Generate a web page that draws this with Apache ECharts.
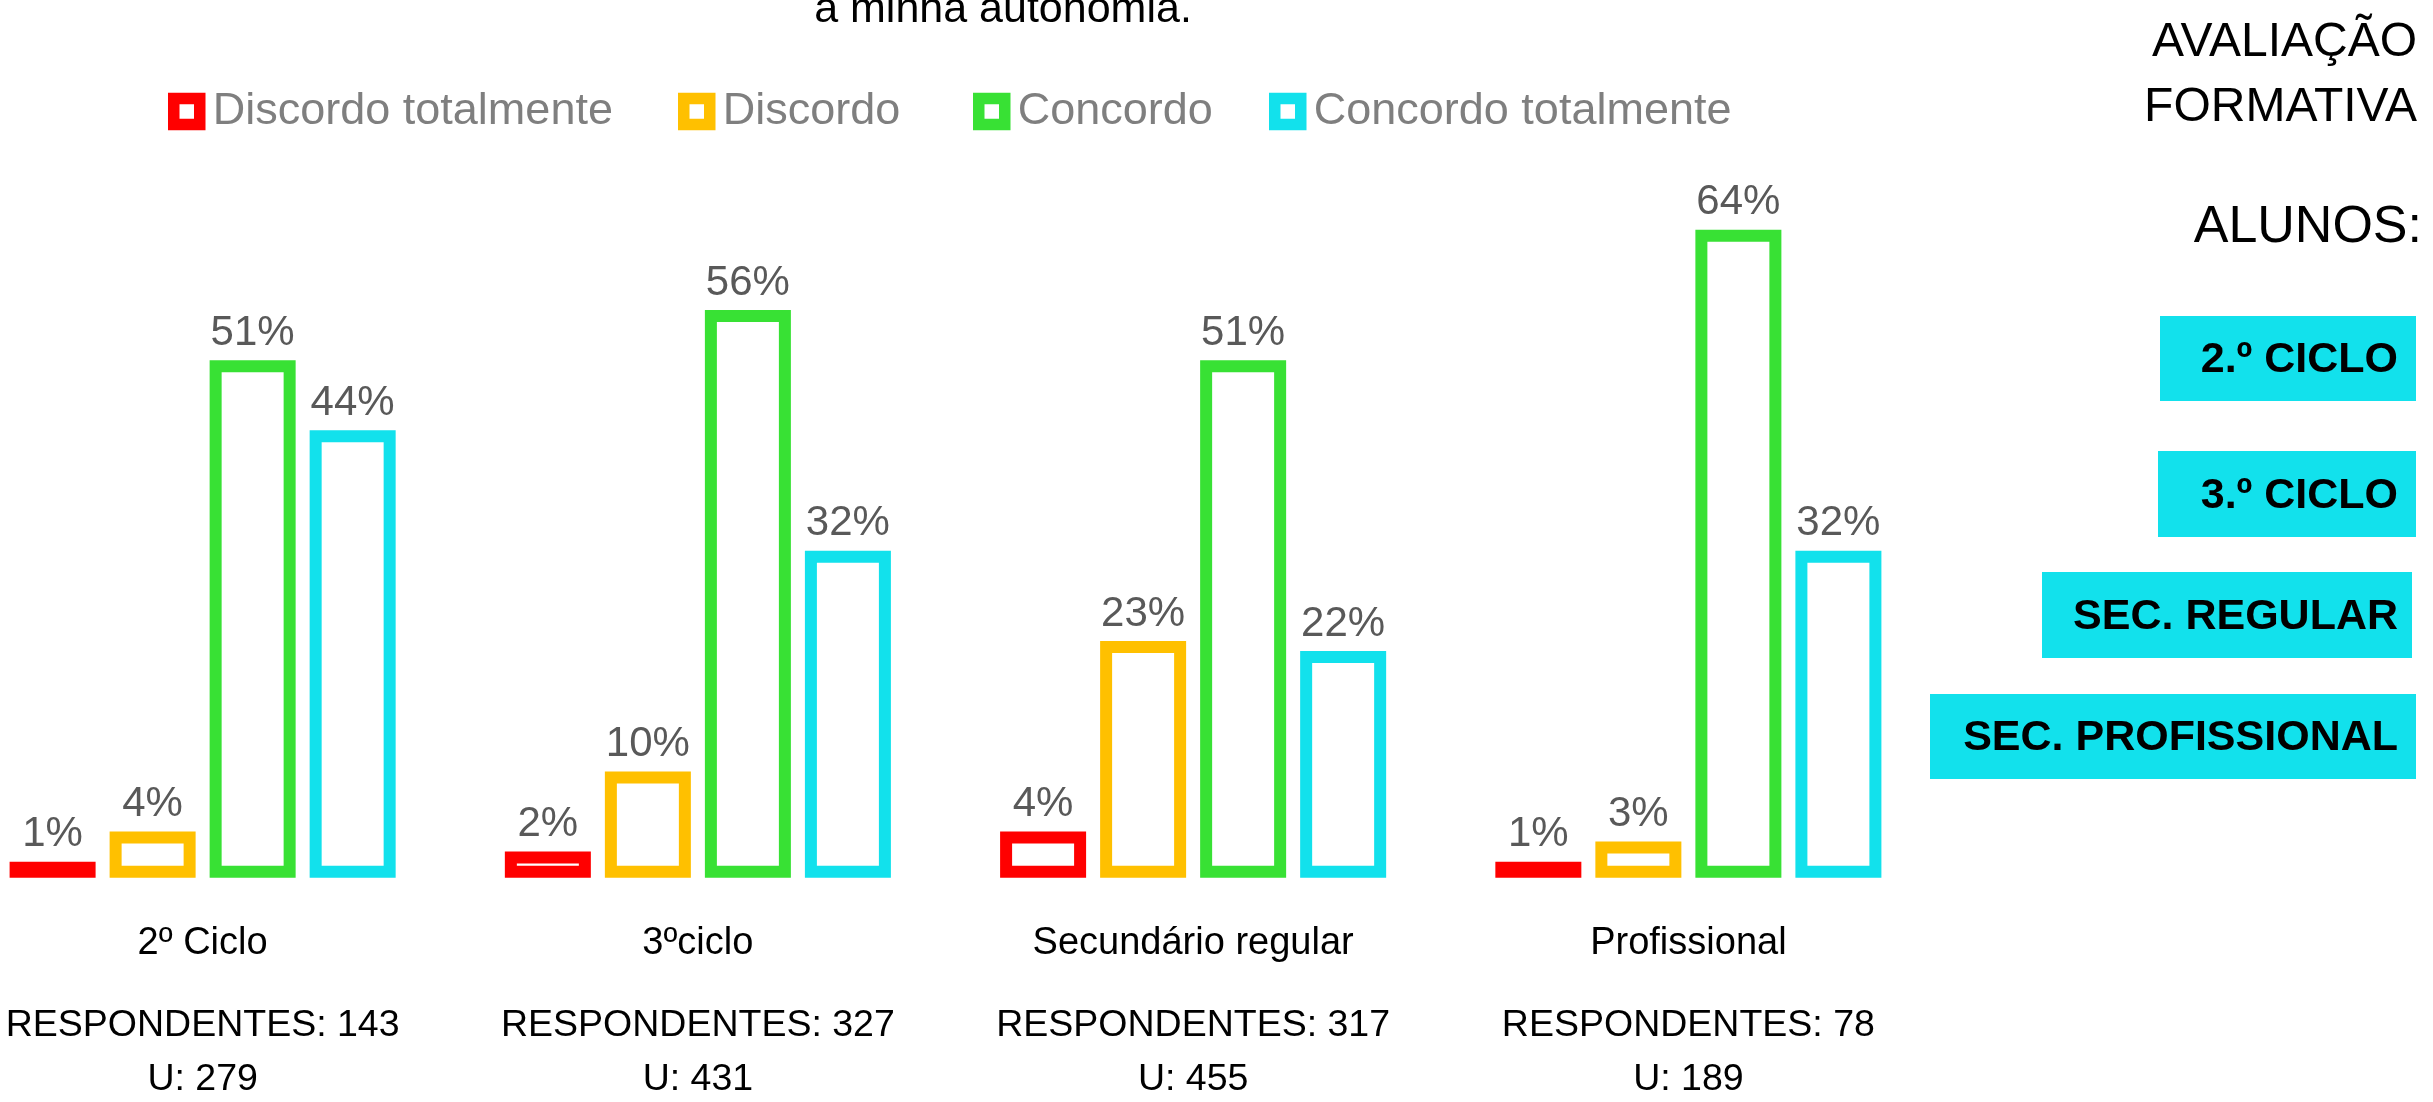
<!DOCTYPE html>
<html>
<head>
<meta charset="utf-8">
<script src="https://cdn.jsdelivr.net/npm/echarts@6/dist/echarts.min.js"></script>
<style>
  html, body { margin: 0; padding: 0; background: #fff; }
  #chart { width: 2433px; height: 1102px; }
</style>
</head>
<body>
<div id="chart"></div>
<script>
// categorias e dados (percentagens)
var categorias = ['2º Ciclo', '3ºciclo', 'Secundário regular', 'Profissional'];
var respondentes = [143, 327, 317, 78];
var universo = [279, 431, 455, 189];
var seriesNomes = ['Discordo totalmente', 'Discordo', 'Concordo', 'Concordo totalmente'];
var discordoTotal = [1, 2, 4, 1];
var discordo = [4, 10, 23, 3];
var concordo = [51, 56, 51, 64];
var concordoTotal = [44, 32, 22, 32];
var cores = ['#FF0000', '#FFC000', '#38E134', '#12E1EC'];
var caixas = ['2.º CICLO', '3.º CICLO', 'SEC. REGULAR', 'SEC. PROFISSIONAL'];

var FONT = '"Liberation Sans", Arial, sans-serif';
var chart = echarts.init(document.getElementById('chart'));

var valores = [discordoTotal, discordo, concordo, concordoTotal];
var series = valores.map(function (d, i) {
  return {
    name: seriesNomes[i],
    type: 'bar',
    barWidth: 86,
    barGap: '16.3%',
    itemStyle: { color: '#fff', borderColor: cores[i], borderWidth: 12 },
    label: {
      show: true,
      position: 'top',
      distance: 6,
      formatter: '{c}%',
      color: '#595959',
      fontSize: 42,
      fontFamily: FONT
    },
    data: d
  };
});

// legenda: um componente por item para fixar as posições
var legLeft = [168, 678, 973, 1269];
var legends = seriesNomes.map(function (n, i) {
  return {
    data: [n],
    left: legLeft[i],
    top: 89,
    padding: 0,
    icon: 'rect',
    itemWidth: 26,
    itemHeight: 26,
    itemStyle: { borderWidth: 11.5 },
    textStyle: { color: '#7F7F7F', fontSize: 45, fontFamily: FONT, padding: [0, 0, 0, 8] },
    selectedMode: false
  };
});

// caixas do painel direito
var boxes = [
  { x: 2160, y: 316, w: 256, h: 85 },
  { x: 2158, y: 451, w: 258, h: 86 },
  { x: 2042, y: 572, w: 370, h: 86 },
  { x: 1930, y: 694, w: 486, h: 85 }
];
var graphics = [
  {
    type: 'text',
    style: { x: 1003, y: 32, text: 'a minha autonomia.', align: 'center', verticalAlign: 'bottom',
      fill: '#000', font: '43px ' + FONT }
  },
  { type: 'text', style: { x: 2417, y: 43, text: 'AVALIAÇÃO', align: 'right', verticalAlign: 'middle', fill: '#000', font: '48px ' + FONT } },
  { type: 'text', style: { x: 2417, y: 108, text: 'FORMATIVA', align: 'right', verticalAlign: 'middle', fill: '#000', font: '48px ' + FONT } },
  { type: 'text', style: { x: 2422, y: 228, text: 'ALUNOS:', align: 'right', verticalAlign: 'middle', fill: '#000', font: '52px ' + FONT } }
];
boxes.forEach(function (b, i) {
  graphics.push({ type: 'rect', shape: { x: b.x, y: b.y, width: b.w, height: b.h }, style: { fill: '#12E1EC' } });
  graphics.push({ type: 'text', style: { x: 2398, y: b.y + b.h / 2 + 2, text: caixas[i], align: 'right', verticalAlign: 'middle',
    fill: '#000', font: 'bold 43px ' + FONT } });
});

var option = {
  backgroundColor: '#fff',
  animation: false,
  textStyle: { fontFamily: FONT },
  legend: legends,
  grid: { left: -45, top: 169.6, width: 1981, height: 708.1, containLabel: false, outerBoundsMode: 'none' },
  xAxis: {
    type: 'category',
    data: categorias,
    axisLine: { show: false },
    axisTick: { show: false },
    axisLabel: {
      margin: 11,
      interval: 0,
      formatter: function (v, idx) {
        return '{cat|' + v + '}\n{resp|RESPONDENTES: ' + respondentes[idx] + '}\n{resp|U: ' + universo[idx] + '}';
      },
      rich: {
        cat: { fontSize: 38, lineHeight: 110, color: '#000', fontFamily: FONT },
        resp: { fontSize: 37.5, lineHeight: 54, color: '#000', fontFamily: FONT }
      }
    }
  },
  yAxis: {
    type: 'value',
    min: -0.6,
    max: 70,
    startValue: -0.6,
    show: false,
    splitLine: { show: false }
  },
  graphic: graphics,
  series: series
};
chart.setOption(option);
</script>
</body>
</html>
